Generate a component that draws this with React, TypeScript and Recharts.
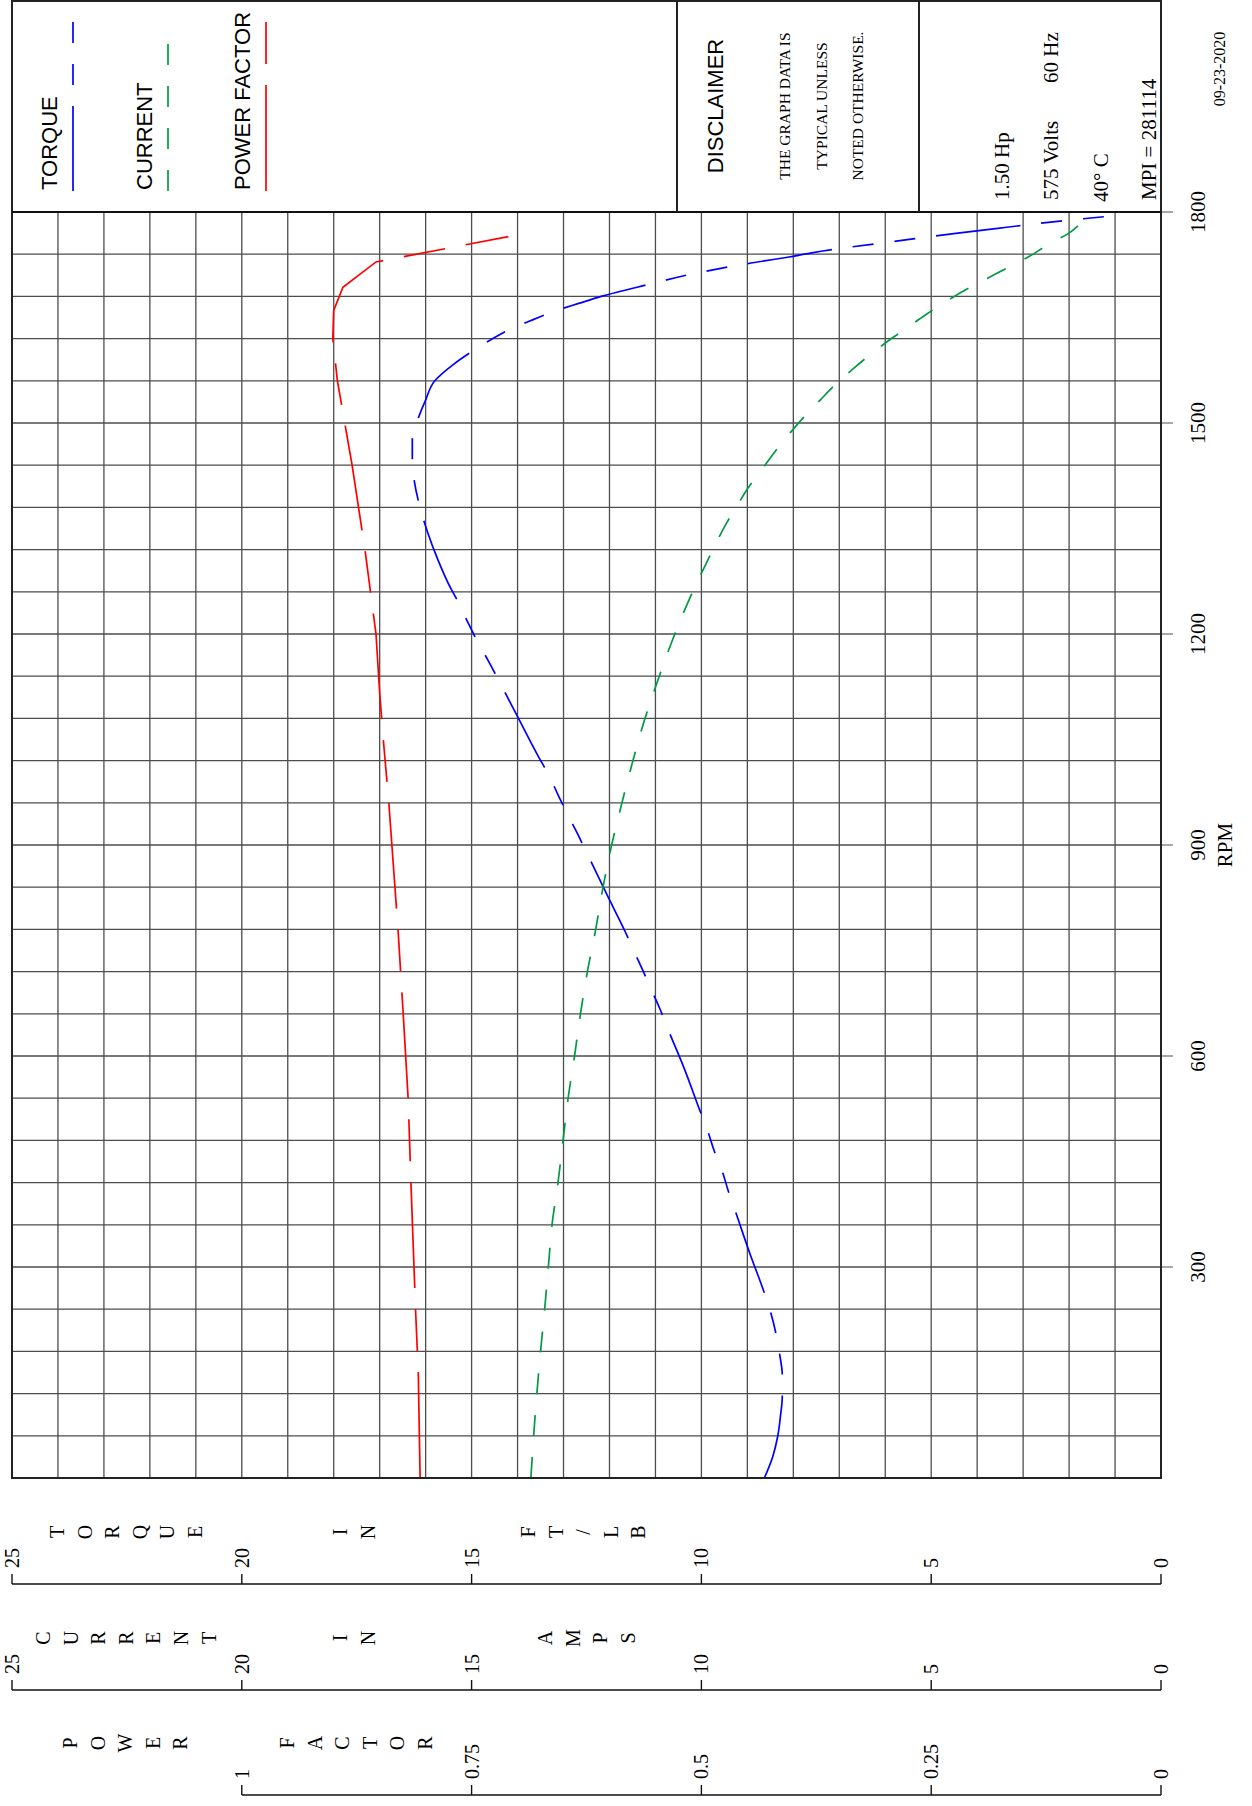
import React from 'react';
import { LineChart, Line, XAxis, YAxis, CartesianGrid } from 'recharts';

// values: [rpm, value]
const torquePoints = [
  [0, 8.63], [30, 8.45], [59, 8.34], [88, 8.28], [116, 8.24], [146, 8.24], [177, 8.3], [206, 8.38],
  [235, 8.49], [263, 8.63], [320, 8.95], [379, 9.26], [407, 9.41], [437, 9.55], [465, 9.72], [495, 9.87],
  [522, 10.03], [580, 10.36], [637, 10.72], [665, 10.89], [693, 11.08], [721, 11.27], [748, 11.46],
  [777, 11.66], [830, 12.06], [887, 12.48], [914, 12.68], [942, 12.9], [970, 13.11], [997, 13.3],
  [1025, 13.54], [1080, 13.98], [1134, 14.41], [1161, 14.63], [1189, 14.87], [1215, 15.07], [1244, 15.28],
  [1271, 15.5], [1305, 15.73], [1345, 15.96], [1387, 16.15], [1415, 16.24], [1446, 16.29], [1475, 16.29],
  [1503, 16.18], [1531, 16.01], [1560, 15.8], [1583, 15.4], [1600, 15.03], [1618, 14.59], [1634, 14.14],
  [1647, 13.66], [1659, 13.2], [1670, 12.67], [1680, 12.18], [1697, 11.15], [1713, 10.12], [1726, 9.05],
  [1736, 8.1], [1742, 7.6], [1761, 5.48], [1770, 4.42], [1778, 3.4], [1786, 2.35], [1796, 0.8],
];

const currentPoints = [
  [0, 13.71], [60, 13.65], [120, 13.58], [180, 13.5], [240, 13.41], [300, 13.33], [360, 13.25],
  [420, 13.12], [480, 13.01], [540, 12.9], [600, 12.76], [665, 12.62], [720, 12.48], [780, 12.3],
  [840, 12.14], [898, 11.96], [957, 11.74], [1015, 11.51], [1073, 11.26], [1130, 10.97], [1188, 10.65],
  [1244, 10.3], [1273, 10.1], [1305, 9.86], [1358, 9.45], [1385, 9.2], [1410, 8.96], [1437, 8.65],
  [1461, 8.38], [1486, 8.07], [1509, 7.76], [1533, 7.41], [1555, 7.08], [1577, 6.7], [1597, 6.33],
  [1617, 5.93], [1635, 5.53], [1654, 5.12], [1671, 4.72], [1689, 4.26], [1704, 3.83], [1720, 3.36],
  [1736, 2.89], [1756, 2.4], [1770, 2.0], [1782, 1.78], [1790, 1.68],
];

const powerFactorPoints = [
  [0, 0.806], [150, 0.808], [240, 0.811], [420, 0.816], [539, 0.819], [651, 0.824], [779, 0.83],
  [959, 0.84], [1049, 0.846], [1116, 0.85], [1200, 0.854], [1260, 0.86], [1320, 0.866], [1380, 0.873],
  [1440, 0.88], [1500, 0.888], [1560, 0.896], [1620, 0.901], [1660, 0.9], [1693, 0.89], [1729, 0.854],
  [1765, 0.71],
];

const rpmTicks = [300, 600, 900, 1200, 1500, 1800];
const torqueTicks = [0, 5, 10, 15, 20, 25];
const currentTicks = [0, 5, 10, 15, 20, 25];
const pfTicks = [0, 0.25, 0.5, 0.75, 1];
const rpmGrid = [
  60, 120, 180, 240, 300, 360, 420, 480, 540, 600, 660, 720, 780, 840, 900,
  960, 1020, 1080, 1140, 1200, 1260, 1320, 1380, 1440, 1500, 1560, 1620, 1680, 1740, 1800,
];
const unitGrid = [1, 2, 3, 4, 5, 6, 7, 8, 9, 10, 11, 12, 13, 14, 15, 16, 17, 18, 19, 20, 21, 22, 23, 24];

const disclaimerLines = ['THE GRAPH DATA IS', 'TYPICAL UNLESS', 'NOTED OTHERWISE.'];
const motorInfo = { hp: '1.50 Hp', volts: '575 Volts', hz: '60 Hz', temp: '40° C', mpi: 'MPI = 281114' };
const sheetDate = '09-23-2020';

const toRows = (pts: number[][]) => pts.map(([rpm, v]) => ({ rpm, v }));

// axis ids sort alphabetically when recharts stacks the left axes, so y1 sits next to the plot
const series = [
  { id: 'torque', axis: 'y1', name: 'TORQUE', color: '#0000ff', dash: '85 21 21 21 21 21', type: 'monotone', rows: toRows(torquePoints), sample: 170 },
  { id: 'current', axis: 'y2', name: 'CURRENT', color: '#009a44', dash: '21 21', type: 'monotone', rows: toRows(currentPoints), sample: 149 },
  { id: 'pf', axis: 'y3', name: 'POWER FACTOR', color: '#ff0000', dash: '106 21 42 21', type: 'linear', rows: toRows(powerFactorPoints), sample: 170 },
];

const SERIF = "'Liberation Serif', 'Times New Roman', serif";
const SANS = "'Liberation Sans', Arial, sans-serif";

// chart is laid out in normal orientation, then the whole sheet is turned 90deg CCW
const W = 1806;
const H = 1252;
const AXIS_W = 106;
const PLOT_LEFT = 328;
const PLOT_RIGHT = 1594;
const PLOT_TOP = 12;
const PLOT_BOTTOM = 1161;

const YTick = (props: any) => {
  const { x, y, payload, w } = props;
  const lx = x - w;
  return (
    <g>
      <line x1={lx} y1={y} x2={lx + 10} y2={y} stroke="#111" strokeWidth={1.4} />
      <text x={lx + 16} y={y} dominantBaseline="central" fontFamily={SERIF} fontSize={20} fill="#000">
        {payload.value}
      </text>
    </g>
  );
};

const XTick = (props: any) => {
  const { x, y, payload } = props;
  return (
    <text x={x} y={y + 32} textAnchor="middle" fontFamily={SERIF} fontSize={21} fill="#000">
      {payload.value}
    </text>
  );
};

const AxisDecor = (props: any) => {
  const { viewBox, groups, topFrac, fallbackX } = props;
  const vx = viewBox && viewBox.x != null ? viewBox.x : fallbackX;
  const vy = viewBox && viewBox.y != null ? viewBox.y : PLOT_TOP;
  const vh = viewBox && viewBox.height != null ? viewBox.height : PLOT_BOTTOM - PLOT_TOP;
  const step = 27.6;
  return (
    <g>
      <line x1={vx} y1={vy + vh * topFrac} x2={vx} y2={vy + vh} stroke="#111" strokeWidth={1.4} />
      {groups.map((g: any) =>
        g.text.split('').map((ch: string, i: number) => (
          <text
            key={g.text + i}
            x={vx + 52}
            y={vy + g.start - PLOT_TOP + i * step}
            textAnchor="middle"
            dominantBaseline="central"
            fontFamily={SERIF}
            fontSize={20}
            fill="#000"
          >
            {ch}
          </text>
        ))
      )}
    </g>
  );
};

const torqueTitle = [{ text: 'TORQUE', start: 57 }, { text: 'IN', start: 340 }, { text: 'FT/LB', start: 528 }];
const currentTitle = [{ text: 'CURRENT', start: 43 }, { text: 'IN', start: 340 }, { text: 'AMPS', start: 545 }];
const pfTitle = [{ text: 'POWER', start: 70 }, { text: 'FACTOR', start: 287 }];

const Sheet = () => (
  <div style={{ position: 'relative', width: W, height: H }}>
    <LineChart width={W} height={H} margin={{ top: PLOT_TOP, right: W - PLOT_RIGHT, bottom: 0, left: 11 }}>
      <CartesianGrid
        yAxisId="y1"
        horizontalValues={unitGrid}
        verticalValues={rpmGrid}
        stroke="#4d4d4d"
        strokeWidth={1.3}
      />
      <XAxis
        dataKey="rpm"
        type="number"
        domain={[0, 1800]}
        ticks={rpmTicks}
        interval={0}
        height={H - PLOT_BOTTOM}
        axisLine={false}
        tickSize={12}
        tickMargin={0}
        tickLine={{ stroke: '#777', strokeWidth: 1.3 }}
        tick={XTick}
        label={(p: any) => {
          const vb = p.viewBox || { x: PLOT_LEFT, y: PLOT_BOTTOM, width: PLOT_RIGHT - PLOT_LEFT };
          return (
            <text x={vb.x + vb.width / 2} y={vb.y + 71} textAnchor="middle" fontFamily={SERIF} fontSize={21} fill="#000">
              RPM
            </text>
          );
        }}
      />
      <YAxis
        yAxisId="y1"
        type="number"
        domain={[0, 25]}
        ticks={torqueTicks}
        interval={0}
        width={AXIS_W}
        axisLine={false}
        tickLine={false}
        tickSize={0}
        tickMargin={0}
        tick={(p: any) => <YTick {...p} w={AXIS_W} />}
        label={(p: any) => <AxisDecor viewBox={p.viewBox} groups={torqueTitle} topFrac={0} fallbackX={222} />}
      />
      <YAxis
        yAxisId="y2"
        type="number"
        domain={[0, 25]}
        ticks={currentTicks}
        interval={0}
        width={AXIS_W}
        axisLine={false}
        tickLine={false}
        tickSize={0}
        tickMargin={0}
        tick={(p: any) => <YTick {...p} w={AXIS_W} />}
        label={(p: any) => <AxisDecor viewBox={p.viewBox} groups={currentTitle} topFrac={0} fallbackX={116} />}
      />
      <YAxis
        yAxisId="y3"
        type="number"
        domain={[0, 1.25]}
        ticks={pfTicks}
        interval={0}
        width={105}
        axisLine={false}
        tickLine={false}
        tickSize={0}
        tickMargin={0}
        tick={(p: any) => <YTick {...p} w={105} />}
        label={(p: any) => <AxisDecor viewBox={p.viewBox} groups={pfTitle} topFrac={1 - 1 / 1.25} fallbackX={11} />}
      />
      {series.map((s) => (
        <Line
          key={s.id}
          yAxisId={s.axis}
          data={s.rows}
          dataKey="v"
          name={s.name}
          type={s.type as any}
          stroke={s.color}
          strokeWidth={1.7}
          strokeDasharray={s.dash}
          dot={false}
          activeDot={false}
          isAnimationActive={false}
        />
      ))}
    </LineChart>

    <svg width={W} height={H} style={{ position: 'absolute', left: 0, top: 0, pointerEvents: 'none' }}>
      <rect x={PLOT_LEFT} y={PLOT_TOP} width={W - 1 - PLOT_LEFT} height={PLOT_BOTTOM - PLOT_TOP} fill="none" stroke="#222" strokeWidth={2} />
      <line x1={PLOT_RIGHT} y1={PLOT_TOP} x2={PLOT_RIGHT} y2={PLOT_BOTTOM} stroke="#111" strokeWidth={2.2} />
      <line x1={PLOT_RIGHT} y1={677} x2={W - 1} y2={677} stroke="#222" strokeWidth={2} />
      <line x1={PLOT_RIGHT} y1={919} x2={W - 1} y2={919} stroke="#222" strokeWidth={2} />

      {series.map((s, i) => {
        const base = [57, 152, 250][i];
        return (
          <g key={s.id}>
            <text x={1616} y={base} fontFamily={SANS} fontSize={22} fill="#000">{s.name}</text>
            <line x1={1615} y1={base + 16} x2={1615 + s.sample} y2={base + 16} stroke={s.color} strokeWidth={1.7} strokeDasharray={s.dash} />
          </g>
        );
      })}

      <text x={1700} y={723} textAnchor="middle" fontFamily={SANS} fontSize={22} fill="#000">DISCLAIMER</text>
      {disclaimerLines.map((t, i) => (
        <text key={t} x={1700} y={790 + i * 36.5} textAnchor="middle" fontFamily={SERIF} fontSize={15.5} fill="#000">{t}</text>
      ))}

      <text x={1606} y={1009} fontFamily={SERIF} fontSize={21} fill="#000">{motorInfo.hp}</text>
      <text x={1606} y={1058} fontFamily={SERIF} fontSize={21} fill="#000">{motorInfo.volts}</text>
      <text x={1723} y={1058} fontFamily={SERIF} fontSize={21} fill="#000">{motorInfo.hz}</text>
      <text x={1604} y={1108} fontFamily={SERIF} fontSize={21} fill="#000">{motorInfo.temp}</text>
      <text x={1606} y={1156} fontFamily={SERIF} fontSize={21} fill="#000">{motorInfo.mpi}</text>

      <text x={1737} y={1225} textAnchor="middle" fontFamily={SERIF} fontSize={16} fill="#000">{sheetDate}</text>
    </svg>
  </div>
);

export default function App() {
  return (
    <div style={{ position: 'absolute', left: 0, top: 0, width: 1252, height: 1806, overflow: 'hidden', background: '#fff' }}>
      <div
        style={{
          position: 'absolute',
          left: 0,
          top: 0,
          width: W,
          height: H,
          transformOrigin: '0 0',
          transform: `translateY(${W}px) rotate(-90deg)`,
        }}
      >
        <Sheet />
      </div>
    </div>
  );
}
